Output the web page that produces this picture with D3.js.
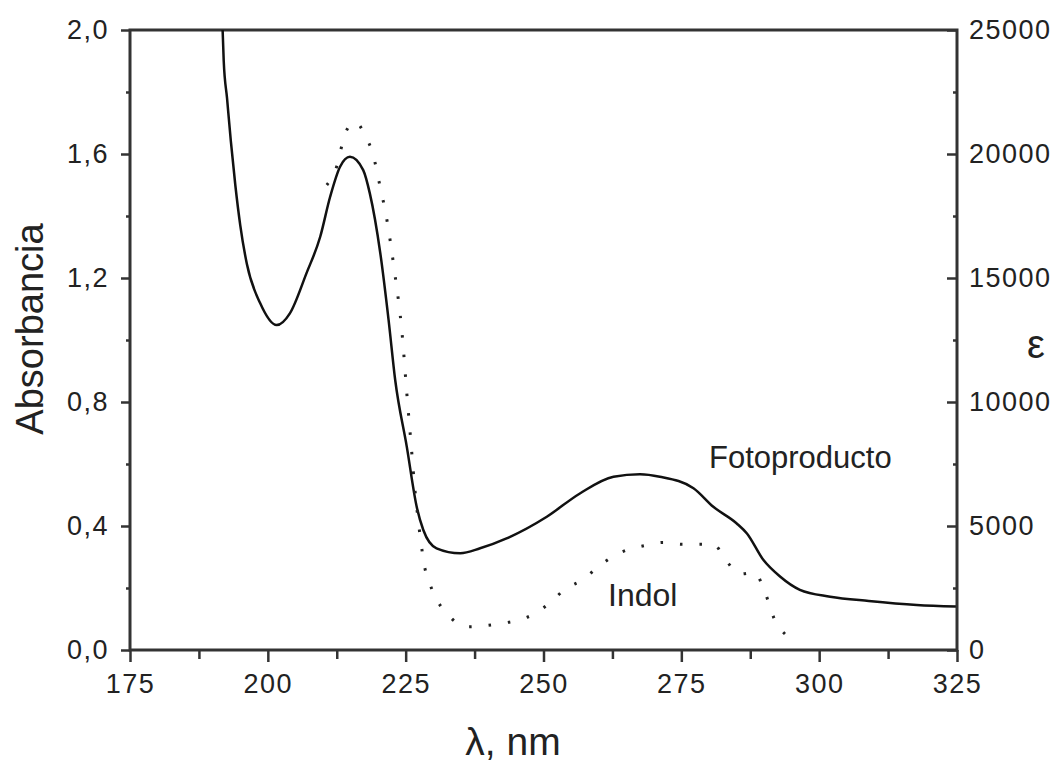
<!DOCTYPE html>
<html>
<head>
<meta charset="utf-8">
<script src="https://cdn.jsdelivr.net/npm/d3@7"></script>
<style>
  html, body { margin: 0; padding: 0; background: #fff; }
  svg text { font-family: "Liberation Sans", Arial, sans-serif; fill: #222; }
</style>
</head>
<body>
<svg id="chart" width="1059" height="762"></svg>
<script>
// Wavelength axis ticks (nm)
const xTicks = [175, 200, 225, 250, 275, 300, 325];
const xMinorTicks = [187.5, 212.5, 237.5, 262.5, 287.5, 312.5];
// Absorbance axis ticks
const yTicks = [0, 0.4, 0.8, 1.2, 1.6, 2.0];
const yMinorTicks = [0.2, 0.6, 1.0, 1.4, 1.8];
// Molar absorptivity axis ticks
const epsTicks = [0, 5000, 10000, 15000, 20000, 25000];
const epsMinorTicks = [2500, 7500, 12500, 17500, 22500];

// Photoproduct spectrum: wavelength (nm) and absorbance
const fotoLambda = [191.8, 192.0, 192.6, 193.3, 194.1, 195.0, 196.2, 198.6, 201.6, 204.0, 207.0, 209.5, 211.3, 213.1, 214.9, 217.3, 218.5, 220.4, 221.9, 223.1, 225.2, 227.0, 228.2, 230.6, 234.9, 238.5, 243.3, 250.6, 256.6, 262.7, 267.5, 271.1, 277.2, 280.8, 285.0, 286.9, 289.9, 292.9, 296.5, 302.0, 309.0, 317.7, 324.8];
const fotoAbs = [2.0, 1.90, 1.78, 1.64, 1.50, 1.37, 1.245, 1.119, 1.048, 1.086, 1.215, 1.333, 1.462, 1.559, 1.591, 1.548, 1.473, 1.280, 1.065, 0.871, 0.656, 0.462, 0.387, 0.328, 0.312, 0.328, 0.360, 0.430, 0.505, 0.559, 0.567, 0.559, 0.522, 0.462, 0.409, 0.376, 0.290, 0.237, 0.194, 0.172, 0.158, 0.145, 0.140];

// Indole spectrum: wavelength (nm) and absorbance
const indolLambda = [210.7, 212.5, 214.0, 215.8, 217.7, 219.1, 220.3, 221.6, 222.9, 224.4, 225.2, 226.0, 226.6, 227.6, 228.5, 229.4, 233.3, 236.1, 242.4, 245.1, 248.5, 251.2, 253.9, 257.2, 260.1, 263.0, 269.0, 271.7, 275.1, 278.1, 280.8, 283.2, 285.5, 288.3, 289.8, 292.0, 294.2];
const indolAbs = [1.50, 1.56, 1.665, 1.704, 1.658, 1.597, 1.50, 1.387, 1.231, 1.011, 0.83, 0.66, 0.532, 0.371, 0.263, 0.213, 0.102, 0.075, 0.086, 0.095, 0.118, 0.153, 0.196, 0.228, 0.271, 0.306, 0.339, 0.347, 0.341, 0.341, 0.341, 0.287, 0.245, 0.250, 0.204, 0.095, 0.045];

const svg = d3.select("#chart");
const plotLeft = 130, plotRight = 957, plotTop = 30, plotBottom = 650;

const x = d3.scaleLinear().domain([175, 325]).range([plotLeft, plotRight]);
const y = d3.scaleLinear().domain([0, 2.0]).range([plotBottom, plotTop]);
const yEps = d3.scaleLinear().domain([0, 25000]).range([plotBottom, plotTop]);

const axisColor = "#333";
const fmtComma = d => d3.format(".1f")(d).replace(".", ",");

// Clip so the steep start of the curve stops at the frame
svg.append("defs").append("clipPath").attr("id", "plotClip")
  .append("rect").attr("x", plotLeft).attr("y", plotTop)
  .attr("width", plotRight - plotLeft).attr("height", plotBottom - plotTop);

// Bottom axis
svg.append("g").attr("transform", `translate(0,${plotBottom})`)
  .call(d3.axisBottom(x).tickValues(xTicks).tickSize(12).tickPadding(12).tickFormat(d3.format("d")));
svg.append("g").attr("transform", `translate(0,${plotBottom})`)
  .call(d3.axisBottom(x).tickValues(xMinorTicks).tickSize(9).tickFormat(""));

// Left axis
svg.append("g").attr("transform", `translate(${plotLeft},0)`)
  .call(d3.axisLeft(y).tickValues(yTicks).tickSize(9).tickPadding(12).tickFormat(fmtComma));
svg.append("g").attr("transform", `translate(${plotLeft},0)`)
  .call(d3.axisLeft(y).tickValues(yMinorTicks).tickSize(4).tickFormat(""));

// Right axis (epsilon), ticks pointing inward
svg.append("g").attr("transform", `translate(${plotRight},0)`)
  .call(d3.axisRight(yEps).tickValues(epsTicks).tickSize(-10).tickPadding(12).tickFormat(d3.format("d")));
svg.append("g").attr("transform", `translate(${plotRight},0)`)
  .call(d3.axisRight(yEps).tickValues(epsMinorTicks).tickSize(-4).tickFormat(""));

svg.selectAll(".domain").remove();
svg.selectAll(".tick line").attr("stroke", axisColor).attr("stroke-width", 2.5);
svg.selectAll(".tick text")
  .style("font-size", "27px").style("letter-spacing", "1.5px").attr("fill", "#222");

// Frame
svg.append("rect")
  .attr("x", plotLeft).attr("y", plotTop)
  .attr("width", plotRight - plotLeft).attr("height", plotBottom - plotTop)
  .attr("fill", "none").attr("stroke", axisColor).attr("stroke-width", 3);

const plot = svg.append("g").attr("clip-path", "url(#plotClip)");

// Photoproduct: solid line
const fotoData = fotoLambda.map((l, i) => [l, fotoAbs[i]]);
plot.append("path")
  .datum(fotoData)
  .attr("fill", "none").attr("stroke", "#111").attr("stroke-width", 2.5)
  .attr("d", d3.line().x(d => x(d[0])).y(d => y(d[1])).curve(d3.curveMonotoneX));

// Indole: dotted line
const indolData = indolLambda.map((l, i) => [l, indolAbs[i]]);
plot.append("path")
  .datum(indolData)
  .attr("fill", "none").attr("stroke", "#222").attr("stroke-width", 3)
  .attr("stroke-dasharray", "2.5 17")
  .attr("d", d3.line().x(d => x(d[0])).y(d => y(d[1])).curve(d3.curveMonotoneX));

// Curve labels
svg.append("text").attr("x", 709).attr("y", 468).style("font-size", "31px").text("Fotoproducto");
svg.append("text").attr("x", 608).attr("y", 606).style("font-size", "32px").text("Indol");

// Axis titles
svg.append("text")
  .attr("transform", "translate(43,329) rotate(-90)")
  .attr("text-anchor", "middle").style("font-size", "38px").text("Absorbancia");
svg.append("text")
  .attr("x", 513).attr("y", 755).attr("text-anchor", "middle")
  .style("font-size", "39px").text("λ, nm");
svg.append("text")
  .attr("x", 1036).attr("y", 358).attr("text-anchor", "middle")
  .style("font-size", "40px").text("ε");
</script>
</body>
</html>
